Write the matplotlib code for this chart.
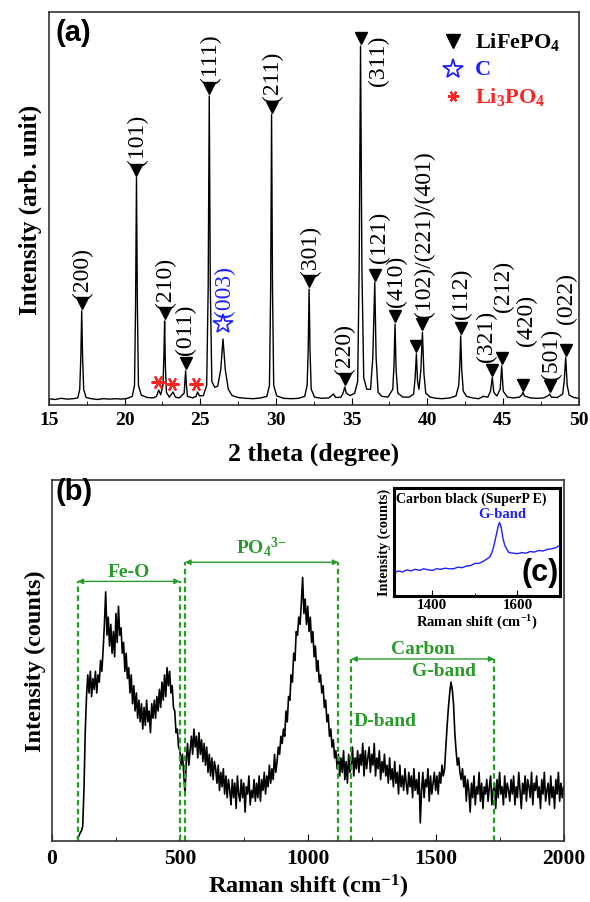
import matplotlib
matplotlib.use('Agg')
import matplotlib.pyplot as plt
from matplotlib.ticker import MultipleLocator
import numpy as np

# ---------------- (a) XRD pattern ----------------
xrd_2theta = [
    15.0, 15.4, 15.8, 16.2, 16.6, 16.9, 17.03, 17.10, 17.16, 17.22,
    17.29, 17.45, 17.8, 18.2, 18.6, 19.0, 19.4, 19.8, 20.2, 20.5,
    20.65, 20.72, 20.78, 20.84, 20.91, 21.1, 21.5, 21.9, 22.1, 22.25,
    22.38, 22.53, 22.59, 22.64, 22.69, 22.76, 22.95, 23.2, 23.35, 23.6,
    23.93, 23.98, 24.03, 24.08, 24.15, 24.5, 24.72, 24.82, 24.95, 25.2,
    25.42, 25.52, 25.59, 25.66, 25.76, 25.95, 26.15, 26.35, 26.5, 26.65,
    26.85, 27.1, 27.5, 28.0, 28.5, 29.0, 29.4, 29.57, 29.65, 29.71,
    29.77, 29.85, 30.05, 30.5, 31.0, 31.5, 31.9, 32.06, 32.13, 32.19,
    32.25, 32.33, 32.55, 33.0, 33.5, 33.8, 33.95, 34.3, 34.45, 34.55,
    34.65, 34.9, 35.2, 35.4, 35.5, 35.59, 35.68, 35.8, 36.0, 36.25,
    36.4, 36.53, 36.62, 36.75, 37.0, 37.4, 37.72, 37.8, 37.87, 37.94,
    38.05, 38.4, 38.8, 39.1, 39.2, 39.28, 39.36, 39.45, 39.58, 39.68,
    39.78, 39.9, 40.2, 40.6, 41.0, 41.5, 41.9, 42.08, 42.15, 42.21,
    42.28, 42.38, 42.6, 43.0, 43.4, 43.7, 44.0, 44.18, 44.3, 44.4,
    44.6, 44.82, 44.92, 45.02, 45.3, 45.7, 46.1, 46.25, 46.33, 46.42,
    46.8, 47.3, 47.7, 48.0, 48.09, 48.2, 48.6, 48.95, 49.05, 49.15,
    49.25, 49.38, 49.7, 50.0]
xrd_counts = [
    1.6, 1.4, 1.7, 1.5, 1.6, 1.8, 4.0, 12.0, 24.0, 12.0,
    4.0, 1.9, 1.6, 1.4, 1.6, 1.5, 1.6, 1.5, 1.7, 2.2,
    5.0, 25.0, 57.9, 25.0, 5.0, 2.5, 1.9, 1.8, 2.2, 3.8,
    2.6, 5.0, 12.0, 21.4, 10.0, 3.2, 2.0, 3.3, 2.0, 1.8,
    3.0, 6.0, 8.7, 5.0, 2.2, 1.8, 2.2, 3.3, 2.3, 2.4,
    5.0, 30.0, 78.7, 30.0, 6.0, 4.5, 4.8, 9.0, 16.8, 9.0,
    4.0, 2.4, 1.9, 1.7, 1.6, 1.8, 2.2, 5.0, 30.0, 74.0,
    30.0, 5.0, 2.3, 1.7, 1.6, 1.7, 2.2, 5.0, 14.0, 29.5,
    14.0, 4.0, 2.0, 1.7, 1.8, 2.8, 1.9, 2.0, 3.2, 4.6,
    3.0, 2.4, 3.0, 6.0, 35.0, 91.4, 35.0, 7.0, 4.0, 4.0,
    12.0, 31.2, 12.0, 3.2, 2.2, 2.0, 4.0, 10.0, 20.6, 9.0,
    3.0, 2.0, 2.0, 2.8, 7.0, 13.0, 6.0, 4.0, 9.0, 18.5,
    8.0, 3.0, 2.0, 1.7, 1.6, 1.8, 2.3, 5.0, 10.0, 17.6,
    9.0, 3.5, 2.2, 1.8, 1.6, 2.2, 2.0, 3.5, 7.0, 3.2,
    2.3, 4.0, 10.0, 3.5, 2.0, 1.8, 2.0, 2.6, 3.2, 2.3,
    1.8, 1.7, 1.8, 2.4, 2.8, 2.0, 1.9, 2.8, 6.0, 12.1,
    5.0, 2.5, 1.9, 1.7]

lfp_2theta = [17.16, 20.78, 22.64, 24.03, 25.59, 29.71, 32.19, 34.55, 35.59, 36.53,
              37.87, 39.28, 39.68, 42.21, 44.30, 44.92, 46.33, 48.09, 49.15]
lfp_hkl = ['(200)', '(101)', '(210)', '(011)', '(111)', '(211)', '(301)', '(220)', '(311)', '(121)',
           '(410)', '', '(102)/(221)/(401)', '(112)', '(321)', '(212)', '(420)', '(501)', '(022)']
carbon_2theta = [26.5]
carbon_hkl = ['(003)']
li3po4_2theta = [22.25, 23.2, 24.82]

# ---------------- (b) Raman spectrum, every 5 cm-1 ----------------
raman_shift = list(range(100, 2001, 5))
raman_counts = [
    1.0, 1.3, 2.2, 2.8, 4.0, 14, 30, 40, 46, 41, 47, 40, 45, 42, 47, 41, 46, 44, 50, 47,
    53, 60, 69, 57, 62, 54, 60, 52, 58, 51, 63, 55, 65, 57, 59, 52, 55, 47, 52, 45,
    48, 41, 46, 38, 43, 36, 41, 34, 39, 33, 38, 31, 37, 32, 39, 33, 36, 30, 38, 34,
    39, 34, 40, 36, 42, 37, 44, 39, 46, 40, 48, 43, 47, 41, 43, 37, 36, 30, 31, 26,
    25, 21, 24, 19, 13, 22, 27, 21, 25, 29, 24, 31, 26, 29, 23, 30, 24, 28, 22, 27,
    21, 26, 19, 24, 18, 23, 17, 22, 20, 16, 21, 14, 19, 15, 20, 13, 18, 12, 17, 14,
    10, 17, 12, 16, 9, 18, 13, 11, 17, 12, 16, 8, 15, 13, 18, 10, 14, 12, 17, 11,
    16, 12, 18, 11, 17, 14, 19, 13, 18, 15, 21, 16, 20, 17, 24, 19, 22, 26, 24, 29,
    27, 31, 29, 36, 33, 40, 39, 46, 44, 52, 50, 58, 57, 62, 60, 66, 73, 63, 67, 60,
    65, 58, 62, 55, 58, 51, 54, 47, 50, 44, 46, 41, 43, 37, 39, 33, 35, 29, 31, 26,
    28, 23, 25, 20, 24, 18, 23, 19, 25, 17, 22, 16, 24, 19, 21, 26, 18, 23, 20, 25,
    19, 24, 21, 27, 18, 25, 20, 23, 26, 19, 24, 21, 27, 18, 23, 20, 25, 17, 22, 19,
    24, 18, 21, 16, 23, 17, 20, 15, 22, 16, 19, 13, 21, 15, 18, 14, 20, 16, 13, 19,
    15, 18, 12, 20, 14, 17, 13, 19, 5, 14, 19, 12, 17, 15, 20, 11, 18, 13, 16, 19,
    14, 18, 13, 19, 16, 21, 18, 20, 26, 32, 37, 41, 44, 42, 38, 30, 25, 21, 23, 19,
    17, 20, 15, 18, 11, 17, 14, 8, 16, 12, 18, 10, 15, 13, 19, 11, 16, 9, 15, 13,
    17, 11, 15, 18, 10, 14, 16, 9, 17, 12, 19, 13, 15, 10, 18, 12, 16, 14, 11, 17,
    13, 18, 10, 15, 12, 19, 14, 9, 16, 13, 18, 11, 17, 15, 12, 19, 10, 16, 14, 18,
    12, 15, 9, 17, 13, 19, 11, 14, 16, 10, 18, 12, 15, 9, 17, 13, 19, 11, 16, 12,
    15]

band_names = ['Fe-O', 'PO$_4$$^{3{-}}$', 'Carbon']
band_lo = [100, 520, 1170]
band_hi = [500, 1120, 1730]

# ---------------- (c) inset: carbon black ----------------
inset_shift = [1310, 1320, 1330, 1340, 1350, 1360, 1370, 1380, 1390, 1400,
               1410, 1420, 1430, 1440, 1450, 1460, 1470, 1480, 1490, 1500,
               1510, 1520, 1530, 1535, 1540, 1545, 1550, 1555, 1558, 1562,
               1566, 1570, 1575, 1580, 1590, 1600, 1610, 1620, 1630, 1640,
               1650, 1660, 1670, 1680, 1690, 1700]
inset_counts = [0.21, 0.23, 0.22, 0.24, 0.23, 0.245, 0.235, 0.25, 0.24, 0.235,
                0.25, 0.245, 0.255, 0.25, 0.25, 0.265, 0.26, 0.275, 0.28, 0.30,
                0.30, 0.32, 0.345, 0.36, 0.40, 0.47, 0.56, 0.65, 0.68, 0.63,
                0.53, 0.47, 0.43, 0.40, 0.395, 0.39, 0.40, 0.395, 0.41, 0.405,
                0.42, 0.415, 0.43, 0.435, 0.445, 0.47]

GREEN = '#2a9a2a'
BLUE = '#1f1fff'
RED = '#ff2222'

plt.rcParams['font.family'] = ['Liberation Serif', 'DejaVu Serif']
plt.rcParams['mathtext.fontset'] = 'custom'
plt.rcParams['mathtext.default'] = 'regular'

fig = plt.figure(figsize=(5.9, 9.03), dpi=100)
ax_a = fig.add_axes([0.0831, 0.5504, 0.8975, 0.4349])
ax_b = fig.add_axes([0.0881, 0.0676, 0.8670, 0.3998])
ax_c = fig.add_axes([0.6678, 0.3392, 0.2814, 0.1193])

# ---- panel (a)
ax_a.plot(xrd_2theta, xrd_counts, color='k', lw=1.0)
ax_a.set_xlim(15, 50)
ax_a.set_ylim(0, 100)

th = np.array(xrd_2theta)
cn = np.array(xrd_counts)


def peak_top(pos):
    return cn[np.abs(th - pos) < 0.06].max()


# hand placement of the hkl labels: (dx, dy above marker, va)
nudge = {'(011)': (0.0, 2.2, 'bottom'), '(311)': (1.16, 1.0, 'top'),
         '(121)': (0.29, 3.1, 'bottom'), '(410)': (0.1, 2.7, 'bottom'),
         '(102)/(221)/(401)': (0.15, 2.0, 'bottom'), '(112)': (0.05, 2.6, 'bottom'),
         '(321)': (-0.4, 2.2, 'bottom'), '(212)': (0.1, 12.0, 'bottom'),
         '(420)': (0.22, 10.0, 'bottom'), '(501)': (0.1, 1.7, 'bottom'),
         '(022)': (0.05, 6.8, 'bottom'), '(220)': (-0.05, 1.2, 'bottom')}
mark_gap = 2.0
for pos, hkl in zip(lfp_2theta, lfp_hkl):
    my = peak_top(pos) + mark_gap
    ax_a.plot(pos, my, marker='v', color='k', ms=8, ls='')
    if hkl:
        dx, dy, va = nudge.get(hkl, (0.08, 1.3, 'bottom'))
        ax_a.text(pos + dx, my + dy, hkl, rotation=90, ha='center', va=va, fontsize=17)

for pos, hkl in zip(carbon_2theta, carbon_hkl):
    my = peak_top(pos) + 3.8
    ax_a.plot(pos, my, marker='*', ms=15, mfc='none', mec=BLUE, mew=1.2, ls='')
    ax_a.text(pos + 0.1, my + 2.0, hkl, rotation=90, ha='center', va='bottom', fontsize=17, color=BLUE)

for pos in li3po4_2theta:
    ax_a.plot(pos - 0.08, peak_top(pos) + 2.0, marker=(6, 2, 90), ms=10, mec=RED, mew=1.5, ls='')

# legend
lx, tx = 0.763, 0.805
ax_a.plot(lx, 0.928, marker='v', color='k', ms=10, transform=ax_a.transAxes)
ax_a.plot(lx, 0.856, marker='*', ms=15, mfc='none', mec=BLUE, mew=1.3, transform=ax_a.transAxes)
ax_a.plot(lx, 0.788, marker=(6, 2, 90), ms=8, mec=RED, mew=1.5, transform=ax_a.transAxes)
ax_a.text(tx, 0.928, 'LiFePO$_4$', transform=ax_a.transAxes, fontsize=16, fontweight='bold', va='center')
ax_a.text(tx, 0.856, 'C', transform=ax_a.transAxes, fontsize=16, fontweight='bold', va='center', color=BLUE)
ax_a.text(tx, 0.788, 'Li$_3$PO$_4$', transform=ax_a.transAxes, fontsize=16, fontweight='bold', va='center', color=RED)

ax_a.text(0.012, 0.951, '(a)', transform=ax_a.transAxes, fontsize=21, fontweight='bold',
          family='Liberation Sans', va='center', ha='left')

ax_a.set_yticks([])
ax_a.xaxis.set_major_locator(MultipleLocator(5))
ax_a.xaxis.set_minor_locator(MultipleLocator(2.5))
ax_a.tick_params(axis='x', which='major', direction='in', length=5, labelsize=14, pad=4)
ax_a.tick_params(axis='x', which='minor', direction='in', length=3)
for lab in ax_a.get_xticklabels():
    lab.set_fontweight('bold')
ax_a.set_xlabel('2 theta (degree)', fontsize=18.5, fontweight='bold', labelpad=10)
ax_a.set_ylabel('Intensity (arb. unit)', fontsize=18, fontweight='bold', labelpad=5)
for sp in ax_a.spines.values():
    sp.set_color('#333333')
    sp.set_linewidth(1.2)

# ---- panel (b)
ax_b.plot(raman_shift, raman_counts, color='k', lw=1.2)
ax_b.set_xlim(0, 2000)
ax_b.set_ylim(0, 100)

band_level = [71.9, 77.2, 50.4]
band_text_gap = [1.6, 2.6, 1.8]
dash = (0, (2.5, 1.5))
for name, lo, hi, lvl, gap in zip(band_names, band_lo, band_hi, band_level, band_text_gap):
    ax_b.plot([lo, lo], [0, lvl], color=GREEN, ls=dash, lw=1.6)
    ax_b.plot([hi, hi], [0, lvl], color=GREEN, ls=dash, lw=1.6)
    ax_b.annotate('', xy=(lo, lvl), xytext=(hi, lvl),
                  arrowprops=dict(arrowstyle='<|-|>', color=GREEN, lw=1.0, mutation_scale=8,
                                  shrinkA=0, shrinkB=0))
    ax_b.text((lo + hi) / 2, lvl + gap, name, ha='center', va='baseline', color=GREEN,
              fontsize=14, fontweight='bold')

ax_b.text(1531, 47.2, 'G-band', ha='center', va='center', color=GREEN, fontsize=14, fontweight='bold')
ax_b.text(1179, 33.3, 'D-band', ha='left', va='center', color=GREEN, fontsize=14, fontweight='bold')

ax_b.text(0.006, 0.970, '(b)', transform=ax_b.transAxes, fontsize=21, fontweight='bold',
          family='Liberation Sans', va='center', ha='left')

ax_b.set_yticks([])
ax_b.xaxis.set_major_locator(MultipleLocator(500))
ax_b.xaxis.set_minor_locator(MultipleLocator(250))
ax_b.tick_params(axis='x', which='major', direction='in', length=5, labelsize=15.5, pad=5)
ax_b.tick_params(axis='x', which='minor', direction='in', length=3)
for lab in ax_b.get_xticklabels():
    lab.set_fontweight('bold')
ax_b.set_xlabel('Raman shift (cm$^{-1}$)', fontsize=17.5, fontweight='bold', labelpad=3)
ax_b.set_ylabel('Intensity (counts)', fontsize=17.5, fontweight='bold', labelpad=4)
for sp in ax_b.spines.values():
    sp.set_color('#333333')
    sp.set_linewidth(1.2)

# ---- inset (c)
ax_c.plot(inset_shift, inset_counts, color=BLUE, lw=1.0)
ax_c.set_xlim(1310, 1700)
ax_c.set_ylim(0, 1)
ax_c.set_yticks([])
ax_c.xaxis.set_major_locator(MultipleLocator(200))
ax_c.xaxis.set_minor_locator(MultipleLocator(100))
ax_c.tick_params(axis='x', which='major', direction='in', length=4, labelsize=10.8, pad=2)
ax_c.tick_params(axis='x', which='minor', direction='in', length=2.5)
for lab in ax_c.get_xticklabels():
    lab.set_fontweight('bold')
ax_c.set_xlabel('Raman shift (cm$^{-1}$)', fontsize=10.5, fontweight='bold', labelpad=1)
ax_c.set_ylabel('Intensity (counts)', fontsize=10.3, fontweight='bold', labelpad=2)
ax_c.text(0.01, 0.905, 'Carbon black (SuperP E)', transform=ax_c.transAxes, fontsize=10,
          fontweight='bold', va='center', ha='left')
ax_c.text(0.652, 0.759, 'G-band', transform=ax_c.transAxes, fontsize=10.5, fontweight='bold',
          va='center', ha='center', color=BLUE)
ax_c.text(0.995, 0.22, '(c)', transform=ax_c.transAxes, fontsize=22, fontweight='bold',
          family='Liberation Sans', va='center', ha='right')
for sp in ax_c.spines.values():
    sp.set_color('k')
    sp.set_linewidth(2.2)

fig.savefig('out.png', dpi=100, facecolor='white')
plt.close(fig)
